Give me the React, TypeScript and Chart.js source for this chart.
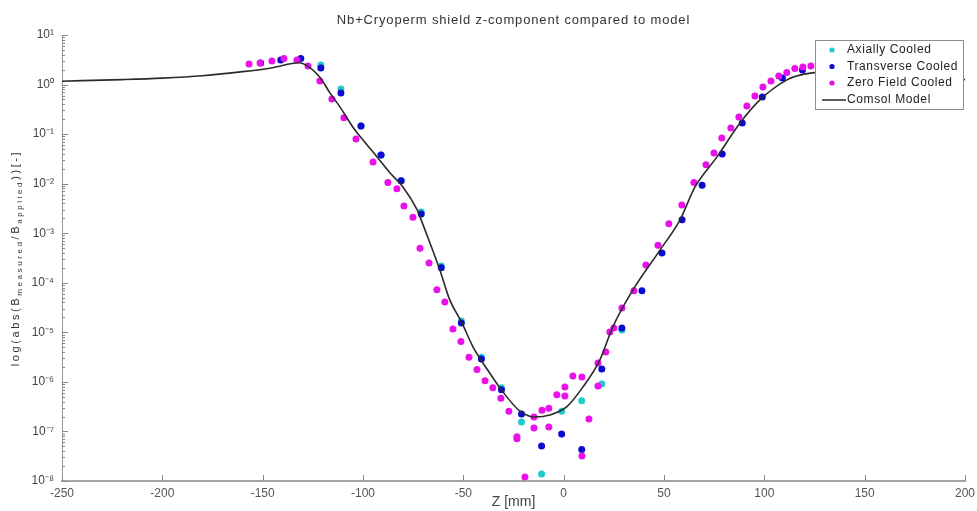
import React, { useEffect, useRef } from 'react';
import { Chart, registerables } from 'chart.js';

Chart.register(...registerables);

const W = 977;
const H = 511;

const titleText = 'Nb+Cryoperm shield z-component compared to model';
const xTitle = 'Z [mm]';
const legendLabels = ['Axially Cooled', 'Transverse Cooled', 'Zero Field Cooled', 'Comsol Model'];

const xMin = -250;
const xMax = 200;
const xStep = 50;
const yTicks = [1e-8, 1e-7, 1e-6, 1e-5, 1e-4, 1e-3, 1e-2, 1e-1, 1e0, 1e1];
const yMinorFactors = [2, 3, 4, 5, 6, 7, 8, 9];

// Comsol model curve
const modelZ = [-250, -220, -200, -180, -160, -145, -132, -121.5, -116.5, -111.5, -105, -100, -93, -86.6, -80, -73, -71.6, -66.6, -61.7, -56.7, -50.7, -45.2, -38.2, -30.3, -21.8, -14.3, -6.9, 1.6, 9.6, 18, 24.5, 34.5, 48, 58, 65.4, 76.4, 87.8, 97.8, 111, 117.7, 127.7, 147.6, 175, 200];
const modelB = [1.17, 1.26, 1.35, 1.51, 1.82, 2.19, 2.75, 1.41, 0.68, 0.355, 0.138, 0.0759, 0.0347, 0.0166, 8.5e-3, 2.95e-3, 2.14e-3, 6.3e-4, 1.82e-4, 4.47e-5, 1.55e-5, 5.1e-6, 1.82e-6, 6.3e-7, 2.57e-7, 1.95e-7, 2.14e-7, 3.16e-7, 7.9e-7, 2.75e-6, 1.29e-5, 7.2e-5, 4.57e-4, 1.86e-3, 8.5e-3, 3.47e-2, 0.166, 0.49, 1.23, 1.55, 1.78, 1.86, 1.66, 1.26];

// Transverse cooled
const transZ = [-151, -141, -131, -121, -111, -101, -91, -81, -71, -61, -51, -41, -31, -21, -11, -1, 9, 19, 29, 39, 49, 59, 69, 79, 89, 99, 109, 119];
const transB = [2.73, 3.13, 3.37, 2.16, 0.676, 0.146, 0.038, 1.14e-2, 2.45e-3, 2.0e-4, 1.55e-5, 2.88e-6, 6.9e-7, 2.24e-7, 5.1e-8, 8.9e-8, 4.3e-8, 1.82e-6, 1.23e-5, 6.9e-5, 4.0e-4, 1.86e-3, 9.3e-3, 3.98e-2, 0.168, 0.562, 1.36, 1.97];

// Axially cooled
const axialZ = [-121, -111, -101, -91, -81, -71, -61, -51, -41, -31, -21, -11, -1, 9, 19, 29];
const axialB = [2.48, 0.81, 0.146, 0.038, 1.14e-2, 2.69e-3, 2.19e-4, 1.70e-5, 3.16e-6, 7.6e-7, 1.55e-7, 1.38e-8, 2.57e-7, 4.17e-7, 9.1e-7, 1.12e-5];

// Zero field cooled
const zeroZ = [-156.8, -151.3, -145.4, -139.4, -132.9, -127.4, -121.5, -115.5, -109.5, -103.5, -95, -87.6, -83.1, -79.6, -75.1, -71.6, -67.1, -63.2, -59.2, -55.2, -51.2, -47.2, -43.2, -39.2, -35.3, -31.3, -27.3, -23.3, -23.3, -19.3, -14.8, -14.8, -10.8, -7.4, -7.4, -3.4, 0.6, 0.6, 4.6, 9.1, 9.1, 12.6, 17.1, 17.1, 21, 23, 25, 29, 35, 41, 47, 52.4, 58.9, 64.9, 70.9, 74.9, 78.8, 83.3, 87.3, 91.3, 95.3, 99.3, 103.3, 107.2, 111.2, 115.2, 119.2, 123.2];
const zeroB = [2.61, 2.73, 2.99, 3.37, 3.13, 2.37, 1.18, 0.513, 0.214, 0.0794, 0.0275, 0.0105, 7.9e-3, 3.55e-3, 2.09e-3, 5.0e-4, 2.5e-4, 7.2e-5, 4.1e-5, 1.17e-5, 6.5e-6, 3.16e-6, 1.78e-6, 1.05e-6, 7.6e-7, 4.7e-7, 2.57e-7, 7.8e-8, 7.1e-8, 1.2e-8, 1.95e-7, 1.17e-7, 2.69e-7, 2.95e-7, 1.23e-7, 5.5e-7, 7.9e-7, 5.2e-7, 1.32e-6, 1.26e-6, 3.2e-8, 1.78e-7, 2.4e-6, 8.3e-7, 4.0e-6, 1.02e-5, 1.23e-5, 3.1e-5, 6.9e-5, 2.29e-4, 5.75e-4, 1.55e-3, 3.7e-3, 0.0105, 0.024, 0.0417, 0.083, 0.133, 0.222, 0.37, 0.59, 0.895, 1.18, 1.49, 1.75, 2.11, 2.26, 2.37];

const colAxial = '#1fcaca';
const colTrans = '#0a0ad0';
const colZero = '#ea10ea';
const colModel = '#2a2a2a';

const FONT = '"Liberation Sans", Arial, sans-serif';

const SUP: Record<string, string> = {
  '-': '\u207B', '0': '\u2070', '1': '\u00B9', '2': '\u00B2', '3': '\u00B3',
  '4': '\u2074', '5': '\u2075', '6': '\u2076', '7': '\u2077', '8': '\u2078', '9': '\u2079',
};
const sup = (s: string) => s.split('').map((c) => SUP[c] ?? c).join('');

const pts = (xs: number[], ys: number[]) => xs.map((x, i) => ({ x, y: ys[i] }));

const decorPlugin = {
  id: 'decor',
  afterDraw(chart: any) {
    const { ctx, chartArea, scales } = chart;
    const xs = scales.x;
    const ys = scales.y;
    ctx.save();

    // inward tick marks
    ctx.strokeStyle = '#8a8a8a';
    ctx.lineWidth = 1;
    ctx.beginPath();
    for (let v = xMin; v <= xMax; v += xStep) {
      const px = Math.round(xs.getPixelForValue(v)) + 0.5;
      ctx.moveTo(px, chartArea.bottom);
      ctx.lineTo(px, chartArea.bottom - 6);
    }
    yTicks.forEach((t, i) => {
      const py = Math.round(ys.getPixelForValue(t)) + 0.5;
      ctx.moveTo(chartArea.left, py);
      ctx.lineTo(chartArea.left + 6, py);
      if (i < yTicks.length - 1) {
        yMinorFactors.forEach((f) => {
          const pm = Math.round(ys.getPixelForValue(t * f)) + 0.5;
          ctx.moveTo(chartArea.left, pm);
          ctx.lineTo(chartArea.left + 3, pm);
        });
      }
    });
    ctx.stroke();

    // title
    ctx.fillStyle = '#333';
    ctx.font = `13px ${FONT}`;
    (ctx as any).letterSpacing = '0.85px';
    ctx.textAlign = 'center';
    ctx.textBaseline = 'middle';
    ctx.fillText(titleText, (chartArea.left + chartArea.right) / 2, 20);

    // y axis title with subscripts
    const parts: [string, boolean][] = [
      ['log(abs(B', false], ['measured', true], ['/B', false], ['applied', true], ['))[-]', false],
    ];
    const mainFont = `11px ${FONT}`;
    const subFont = `8px ${FONT}`;
    (ctx as any).letterSpacing = '2.6px';
    let total = 0;
    parts.forEach(([t, s]) => {
      ctx.font = s ? subFont : mainFont;
      total += ctx.measureText(t).width;
    });
    ctx.save();
    ctx.translate(16, 258);
    ctx.rotate(-Math.PI / 2);
    ctx.textAlign = 'left';
    ctx.textBaseline = 'middle';
    ctx.fillStyle = '#333';
    let cx = -total / 2;
    parts.forEach(([t, s]) => {
      ctx.font = s ? subFont : mainFont;
      ctx.fillText(t, cx, s ? 4 : 0);
      cx += ctx.measureText(t).width;
    });
    ctx.restore();

    // legend box
    const bx = 815, by = 40, bw = 148, bh = 69;
    ctx.fillStyle = '#ffffff';
    ctx.fillRect(bx, by, bw, bh);
    ctx.strokeStyle = '#8c8c8c';
    ctx.lineWidth = 1;
    ctx.strokeRect(bx + 0.5, by + 0.5, bw, bh);
    const rows = [50, 66.5, 83, 100];
    const cols = [colAxial, colTrans, colZero];
    ctx.font = `12px ${FONT}`;
    (ctx as any).letterSpacing = '0.6px';
    ctx.textAlign = 'left';
    ctx.textBaseline = 'middle';
    legendLabels.forEach((lab, i) => {
      const yy = rows[i];
      if (i < 3) {
        ctx.fillStyle = cols[i];
        ctx.beginPath();
        ctx.arc(832, yy, 2.6, 0, Math.PI * 2);
        ctx.fill();
      } else {
        ctx.strokeStyle = colModel;
        ctx.lineWidth = 1.5;
        ctx.beginPath();
        ctx.moveTo(822, yy);
        ctx.lineTo(846, yy);
        ctx.stroke();
      }
      ctx.fillStyle = '#222';
      ctx.fillText(lab, 847, yy);
    });
    (ctx as any).letterSpacing = '0px';
    ctx.restore();
  },
};

export default function App() {
  const ref = useRef<HTMLCanvasElement>(null);
  useEffect(() => {
    document.body.style.margin = '0';
    const canvas = ref.current;
    if (!canvas) return;
    const chart = new Chart(canvas, {
      type: 'scatter',
      data: {
        datasets: [
          {
            label: legendLabels[0],
            data: pts(axialZ, axialB),
            backgroundColor: colAxial,
            borderColor: colAxial,
            pointRadius: 3.5,
            pointBorderWidth: 0,
            order: 4,
          },
          {
            label: legendLabels[1],
            data: pts(transZ, transB),
            backgroundColor: colTrans,
            borderColor: colTrans,
            pointRadius: 3.5,
            pointBorderWidth: 0,
            order: 3,
          },
          {
            label: legendLabels[2],
            data: pts(zeroZ, zeroB),
            backgroundColor: colZero,
            borderColor: colZero,
            pointRadius: 3.5,
            pointBorderWidth: 0,
            order: 2,
          },
          {
            label: legendLabels[3],
            data: pts(modelZ, modelB),
            showLine: true,
            borderColor: colModel,
            backgroundColor: colModel,
            borderWidth: 1.6,
            pointRadius: 0,
            cubicInterpolationMode: 'monotone',
            order: 1,
          } as any,
        ],
      },
      options: {
        responsive: false,
        animation: false,
        devicePixelRatio: 1,
        layout: { padding: { top: 35, right: 12, left: 0, bottom: 0 } },
        plugins: {
          legend: { display: false },
          title: { display: false },
          tooltip: { enabled: false },
        },
        scales: {
          x: {
            type: 'linear',
            min: xMin,
            max: xMax,
            ticks: {
              stepSize: xStep,
              color: '#555',
              font: { family: FONT, size: 12 },
              padding: 5,
              maxRotation: 0,
            },
            grid: { display: false, drawTicks: false },
            border: { display: true, color: '#a6a6a6', width: 2 },
            title: {
              display: true,
              text: xTitle,
              color: '#444',
              font: { family: FONT, size: 14 },
              padding: { top: 0, bottom: 0 },
            },
            afterFit: (s: any) => {
              s.height = 30;
              s.paddingRight = 0;
              s.paddingLeft = 0;
            },
          },
          y: {
            type: 'logarithmic',
            min: 1e-8,
            max: 10,
            afterBuildTicks: (s: any) => {
              s.ticks = yTicks.map((v) => ({ value: v, major: true }));
            },
            ticks: {
              color: '#444',
              font: { family: FONT, size: 12 },
              padding: 8,
              callback: (v: any) => '10' + sup(String(Math.round(Math.log10(Number(v))))),
            },
            grid: { display: false, drawTicks: false },
            border: { display: true, color: '#9a9a9a', width: 1 },
            afterFit: (s: any) => {
              s.width = 62;
              s.paddingTop = 0;
              s.paddingBottom = 0;
            },
          },
        },
      } as any,
      plugins: [decorPlugin],
    });
    return () => chart.destroy();
  }, []);
  return (
    <div style={{ width: W, height: H }}>
      <canvas ref={ref} width={W} height={H} style={{ display: 'block' }} />
    </div>
  );
}
